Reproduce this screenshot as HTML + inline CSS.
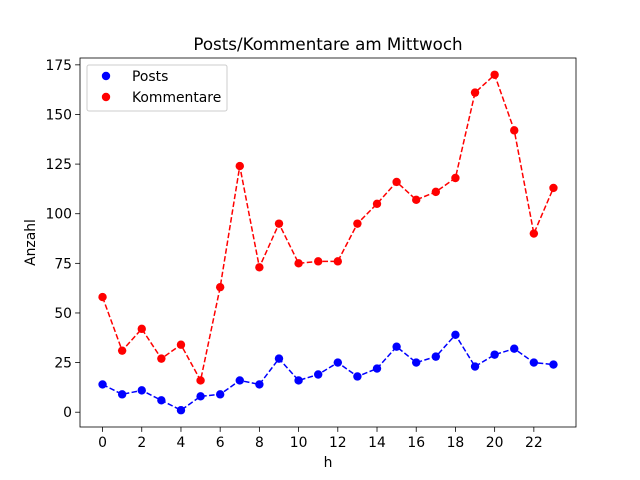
<!DOCTYPE html>
<html><head><meta charset="utf-8"><style>body{margin:0;background:#fff}svg{display:block;font-family:"DejaVu Sans","Liberation Sans",sans-serif}</style></head>
<body>
<svg id="chart" width="640" height="480" xmlns="http://www.w3.org/2000/svg"></svg>
<script>
const hours=[0,1,2,3,4,5,6,7,8,9,10,11,12,13,14,15,16,17,18,19,20,21,22,23];
const posts=[14,9,11,6,1,8,9,16,14,27,16,19,25,18,22,33,25,28,39,23,29,32,25,24];
const kommentare=[58,31,42,27,34,16,63,124,73,95,75,76,76,95,105,116,107,111,118,161,170,142,90,113];
const xTicks=[0,2,4,6,8,10,12,14,16,18,20,22];
const yTicks=[0,25,50,75,100,125,150,175];
const svg=document.getElementById('chart');
const NS='http://www.w3.org/2000/svg';
const L=80,R=576,T=58,B=427;
const xmin=Math.min(...hours),xmax=Math.max(...hours),xm=(xmax-xmin)*0.05;
const all=posts.concat(kommentare);const ymn=Math.min(...all),ymx=Math.max(...all),ym=(ymx-ymn)*0.05;
const X=v=>L+(v-(xmin-xm))/((xmax+xm)-(xmin-xm))*(R-L);
const Y=v=>B-(v-(ymn-ym))/((ymx+ym)-(ymn-ym))*(B-T);
function el(t,a,txt){const e=document.createElementNS(NS,t);for(const k in a)e.setAttribute(k,a[k]);if(txt!==undefined)e.textContent=txt;svg.appendChild(e);return e;}
function series(vals,color,name){
 const g=el('g',{});
 const p=document.createElementNS(NS,'polyline');
 p.setAttribute('points',vals.map((v,i)=>X(hours[i])+','+Y(v)).join(' '));
 p.setAttribute('fill','none');p.setAttribute('stroke',color);p.setAttribute('stroke-width','1.5');p.setAttribute('stroke-dasharray','5.5,2.4');
 g.appendChild(p);
 vals.forEach((v,i)=>{const c=document.createElementNS(NS,'circle');c.setAttribute('cx',X(hours[i]));c.setAttribute('cy',Y(v));c.setAttribute('r','4.2');c.setAttribute('fill',color);
 g.appendChild(c);});
}
series(posts,'#0000ff','posts');
series(kommentare,'#ff0000','kommentare');
const frame=el('rect',{x:L,y:T,width:R-L,height:B-T,fill:'none',stroke:'#000','stroke-width':0.8});

xTicks.forEach(v=>{const x=X(v);el('line',{x1:x,x2:x,y1:B,y2:B+4.9,stroke:'#000','stroke-width':0.8});
 const t=el('text',{x:x,y:B+20,'text-anchor':'middle','font-size':13.9},v);});
yTicks.forEach(v=>{const y=Y(v);el('line',{x1:L-4.9,x2:L,y1:y,y2:y,stroke:'#000','stroke-width':0.8});
 const t=el('text',{x:L-8,y:y+5,'text-anchor':'end','font-size':13.9},v);});
const ttl=el('text',{x:(L+R)/2,y:50,'text-anchor':'middle','font-size':16.7},'Posts/Kommentare am Mittwoch');
const xl=el('text',{x:(L+R)/2,y:467,'text-anchor':'middle','font-size':13.9},'h');
const yl=el('text',{x:35,y:(T+B)/2,'text-anchor':'middle','font-size':13.9,transform:'rotate(-90 35 '+((T+B)/2)+')'},'Anzahl');
const lg=el('rect',{x:87,y:65,width:140,height:46,fill:'#fff',stroke:'#ccc','stroke-width':1,rx:2});
[['Posts','#0000ff',76],['Kommentare','#ff0000',97]].forEach(([n,c,y])=>{
 el('circle',{cx:106,cy:y,r:4.2,fill:c});
 const t=el('text',{x:132,y:y+5,'font-size':13.9},n);});
</script>
</body></html>
